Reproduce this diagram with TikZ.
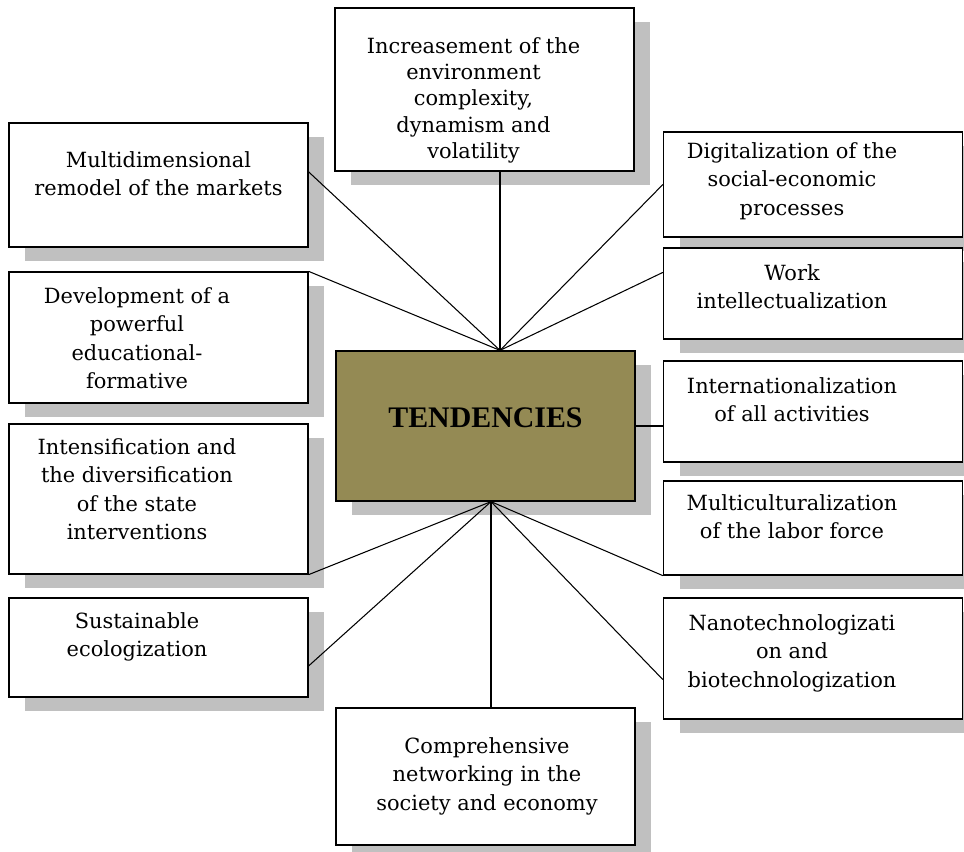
\documentclass[tikz,border=0pt]{standalone}
\usepackage{fontspec}
\setmainfont{DejaVu Serif}
\newfontfamily\headfont{Liberation Serif}
\usetikzlibrary{calc}
\definecolor{tendc}{RGB}{148,138,84}
\definecolor{shade}{RGB}{192,192,192}
\tikzset{
  card/.style={draw=black, line width=0.75pt, fill=white, inner sep=0pt,
               minimum width=5.98cm,
               preaction={fill=shade, draw=none,
                          transform canvas={xshift=0.32cm, yshift=-0.28cm}}},
  txt/.style={align=center, inner sep=0pt, anchor=north,
              font=\fontsize{11.9}{16.2}\selectfont},
  link/.style={line width=0.6pt},
}

\begin{document}
\begin{tikzpicture}[x=0.02cm, y=-0.02cm]
\useasboundingbox (0,0) rectangle (964,852);

% central box
\node[card, fill=tendc, minimum height=3cm] (tend) at (485.5,426) {};
\node[inner sep=0pt, font=\headfont\bfseries\fontsize{17}{20}\selectfont]
  (tend-t) at (485.5,418) {TENDENCIES};

% top and bottom
\node[card, minimum height=3.26cm] (env) at (484.5,89.5) {};
\node[txt, font=\fontsize{11.9}{15}\selectfont] (env-t) at (473.5,37)
  {Increasement of the\\ environment\\ complexity,\\ dynamism and\\ volatility};
\node[card, minimum height=2.74cm] (net) at (485.5,776.5) {};
\node[txt] (net-t) at (487,737)
  {Comprehensive\\ networking in the\\ society and economy};

% left column
\node[card, minimum height=2.48cm] (mkt) at (158.5,185) {};
\node[txt] (mkt-t) at (158.5,151) {Multidimensional\\ remodel of the markets};
\node[card, minimum height=2.62cm] (edu) at (158.5,337.5) {};
\node[txt] (edu-t) at (137,287)
  {Development of a\\ powerful\\ educational-\\ formative};
\node[card, minimum height=3cm] (state) at (158.5,499) {};
\node[txt] (state-t) at (137,438)
  {Intensification and\\ the diversification\\ of the state\\ interventions};
\node[card, minimum height=1.98cm] (eco) at (158.5,647.5) {};
\node[txt] (eco-t) at (137,612) {Sustainable\\ ecologization};

% right column
\node[card, minimum height=2.1cm] (dig) at (813,184.5) {};
\node[txt] (dig-t) at (792,142)
  {Digitalization of the\\ social-economic\\ processes};
\node[card, minimum height=1.82cm] (work) at (813,293.5) {};
\node[txt] (work-t) at (792,264) {Work\\ intellectualization};
\node[card, minimum height=2.02cm] (intl) at (813,411.5) {};
\node[txt] (intl-t) at (792,377) {Internationalization\\ of all activities};
\node[card, minimum height=1.88cm] (cult) at (813,528) {};
\node[txt] (cult-t) at (792,494) {Multiculturalization\\ of the labor force};
\node[card, minimum height=2.42cm] (nano) at (813,658.5) {};
\node[txt] (nano-t) at (792,614)
  {Nanotechnologizati\\ on and\\ biotechnologization};

% connectors
\coordinate (hubN) at ($(tend.north)+(14.5,0)$);
\coordinate (hubS) at ($(tend.south)+(5.5,0)$);
\draw[link] (hubN) -- (hubN |- env.south);
\draw[link] (hubN) -- (mkt.5);
\draw[link] (hubN) -- (edu.north east);
\draw[link] (hubN) -- (dig.west);
\draw[link] (hubN) -- (work.172);
\draw[link] (tend.east) -- (tend.east -| intl.west);
\draw[link] (hubS) -- (state.south east);
\draw[link] (hubS) -- (eco.-7);
\draw[link] (hubS) -- (hubS |- net.north);
\draw[link] (hubS) -- (cult.south west);
\draw[link] (hubS) -- (nano.188);

\end{tikzpicture}
\end{document}
